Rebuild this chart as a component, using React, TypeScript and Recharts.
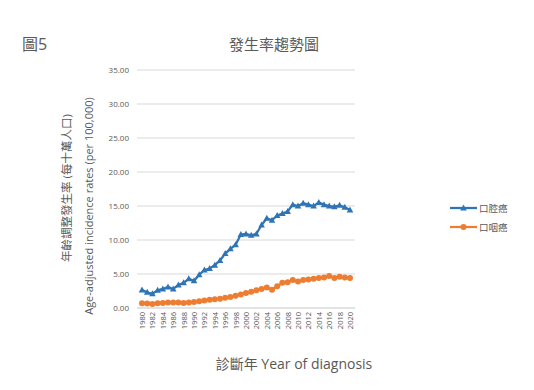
import React from 'react';
import { LineChart, Line, XAxis, YAxis, CartesianGrid, Legend } from 'recharts';

const years = [
  '1980', '1981', '1982', '1983', '1984', '1985', '1986', '1987', '1988', '1989',
  '1990', '1991', '1992', '1993', '1994', '1995', '1996', '1997', '1998', '1999',
  '2000', '2001', '2002', '2003', '2004', '2005', '2006', '2007', '2008', '2009',
  '2010', '2011', '2012', '2013', '2014', '2015', '2016', '2017', '2018', '2019', '2020',
];

const oralCavity = [
  2.65, 2.3, 2.1, 2.6, 2.8, 3.1, 2.8, 3.4, 3.7, 4.3,
  4.0, 4.9, 5.6, 5.8, 6.3, 7.0, 8.0, 8.7, 9.3, 10.8,
  10.9, 10.7, 10.9, 12.2, 13.2, 12.9, 13.6, 13.9, 14.2, 15.2,
  15.0, 15.4, 15.2, 15.0, 15.5, 15.2, 15.0, 14.9, 15.1, 14.8, 14.4,
];

const oropharynx = [
  0.7, 0.65, 0.6, 0.7, 0.75, 0.8, 0.8, 0.8, 0.75, 0.8,
  0.9, 1.0, 1.1, 1.2, 1.3, 1.35, 1.5, 1.6, 1.8, 2.0,
  2.2, 2.4, 2.6, 2.8, 3.0, 2.7, 3.2, 3.7, 3.8, 4.1,
  3.9, 4.1, 4.2, 4.3, 4.4, 4.5, 4.7, 4.4, 4.6, 4.5, 4.4,
];

const yTicks = [0, 5, 10, 15, 20, 25, 30, 35];

const seriesNames = ['口腔癌', '口咽癌'];
const BLUE = '#2F75B5';
const ORANGE = '#ED7D31';
const TEXT = '#595959';
const FONT = "'Open Sans', 'Noto Sans CJK TC', sans-serif";

const data = years.map((y, i) => ({ year: y, a: oralCavity[i], b: oropharynx[i] }));

const Triangle = (props: any) => {
  const { cx, cy, index } = props;
  if (cx == null || cy == null) return <g key={index} />;
  return (
    <path
      key={index}
      d={`M${cx},${cy - 3.5}L${cx + 3.3},${cy + 2.5}L${cx - 3.3},${cy + 2.5}Z`}
      fill={BLUE}
    />
  );
};

const Circle = (props: any) => {
  const { cx, cy, index } = props;
  if (cx == null || cy == null) return <g key={index} />;
  return <circle key={index} cx={cx} cy={cy} r={3} fill={ORANGE} />;
};

const XTick = (props: any) => {
  const { x, y, payload } = props;
  return (
    <text
      x={x}
      y={y}
      transform={`rotate(-90 ${x} ${y})`}
      textAnchor="end"
      dominantBaseline="central"
      fontSize={7.5}
      fill={TEXT}
      fontFamily={FONT}
    >
      {payload.value}
    </text>
  );
};

const LegendContent = (props: any) => {
  const payload = [...(props.payload || [])].sort((p: any, q: any) =>
    String(p.dataKey).localeCompare(String(q.dataKey))
  );
  return (
    <div style={{ fontFamily: FONT }}>
      {payload.map((p: any, i: number) => (
        <div key={i} style={{ display: 'flex', alignItems: 'center', height: 19 }}>
          <svg width={30} height={10}>
            <line x1={1} y1={5} x2={28} y2={5} stroke={p.color} strokeWidth={2.25} />
            {p.dataKey === 'a' ? (
              <path d="M14.5,1.5L17.8,7.5L11.2,7.5Z" fill={p.color} />
            ) : (
              <circle cx={14.5} cy={5} r={3} fill={p.color} />
            )}
          </svg>
          <span style={{ fontSize: 9.5, color: TEXT, marginLeft: 0 }}>{p.value}</span>
        </div>
      ))}
    </div>
  );
};

export default function App() {
  return (
    <div style={{ position: 'absolute', left: 0, top: 0, width: 534, height: 390, background: '#fff', fontFamily: FONT }}>
      <div style={{ position: 'absolute', left: 22, top: 31, fontSize: 16, color: TEXT }}>圖5</div>
      <div style={{ position: 'absolute', left: 0, width: 548, top: 33, textAlign: 'center', fontSize: 15, color: TEXT }}>
        發生率趨勢圖
      </div>
      <div
        style={{
          position: 'absolute',
          left: 66,
          top: 188,
          transform: 'translate(-50%, -50%) rotate(-90deg)',
          whiteSpace: 'nowrap',
          fontSize: 11.5,
          color: TEXT,
        }}
      >
        年齡調整發生率 (每十萬人口)
      </div>
      <div
        style={{
          position: 'absolute',
          left: 88,
          top: 206,
          transform: 'translate(-50%, -50%) rotate(-90deg)',
          whiteSpace: 'nowrap',
          fontSize: 11,
          color: TEXT,
        }}
      >
        Age-adjusted incidence rates (per 100,000)
      </div>
      <div style={{ position: 'absolute', left: 0, width: 588, top: 353, textAlign: 'center', fontSize: 14, color: TEXT }}>
        診斷年 Year of diagnosis
      </div>
      <div style={{ position: 'absolute', left: 0, top: 0 }}>
        <LineChart width={534} height={390} data={data} margin={{ top: 70, right: 99, bottom: 0, left: 0 }}>
          <CartesianGrid vertical={false} stroke="#D9D9D9" strokeWidth={1} />
          <XAxis
            dataKey="year"
            height={82}
            interval={1}
            tick={<XTick />}
            tickLine={false}
            axisLine={{ stroke: '#D9D9D9' }}
            tickSize={0}
            tickMargin={4}
            padding={{ left: 5, right: 5 }}
          />
          <YAxis
            width={137}
            domain={[0, 35]}
            ticks={yTicks}
            tickFormatter={(v: number) => v.toFixed(2)}
            tick={{ fontSize: 8, fill: TEXT, fontFamily: FONT }}
            axisLine={false}
            tickLine={false}
            tickSize={0}
            tickMargin={8}
          />
          <Legend
            layout="vertical"
            verticalAlign="top"
            align="right"
            content={<LegendContent />}
            wrapperStyle={{ left: 449, top: 198, width: 80 }}
          />
          <Line
            name={seriesNames[0]}
            dataKey="a"
            stroke={BLUE}
            strokeWidth={2.25}
            dot={<Triangle />}
            activeDot={false}
            isAnimationActive={false}
          />
          <Line
            name={seriesNames[1]}
            dataKey="b"
            stroke={ORANGE}
            strokeWidth={2.25}
            dot={<Circle />}
            activeDot={false}
            isAnimationActive={false}
          />
        </LineChart>
      </div>
    </div>
  );
}
